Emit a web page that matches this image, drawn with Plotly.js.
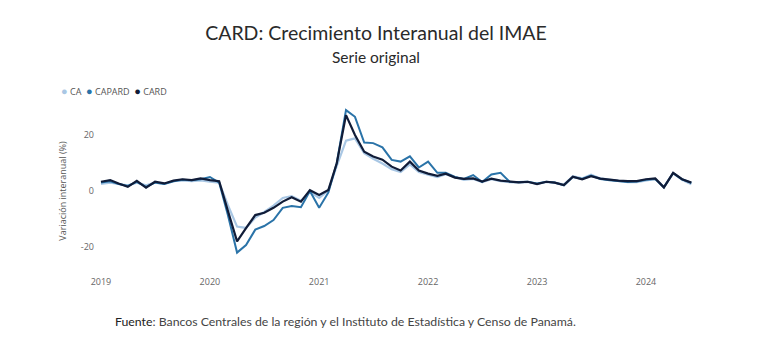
<!DOCTYPE html>
<html>
<head>
<meta charset="utf-8">
<script src="https://cdn.plot.ly/plotly-3.0.1.min.js"></script>
<style>html,body{margin:0;padding:0;background:#fff;}#chart{width:768px;height:361px;}</style>
</head>
<body>
<div id="chart"></div>
<script>
// Monthly dates, Jan 2019 - Jun 2024
const months = [
 '2019-01-01','2019-02-01','2019-03-01','2019-04-01','2019-05-01','2019-06-01','2019-07-01','2019-08-01','2019-09-01','2019-10-01','2019-11-01','2019-12-01',
 '2020-01-01','2020-02-01','2020-03-01','2020-04-01','2020-05-01','2020-06-01','2020-07-01','2020-08-01','2020-09-01','2020-10-01','2020-11-01','2020-12-01',
 '2021-01-01','2021-02-01','2021-03-01','2021-04-01','2021-05-01','2021-06-01','2021-07-01','2021-08-01','2021-09-01','2021-10-01','2021-11-01','2021-12-01',
 '2022-01-01','2022-02-01','2022-03-01','2022-04-01','2022-05-01','2022-06-01','2022-07-01','2022-08-01','2022-09-01','2022-10-01','2022-11-01','2022-12-01',
 '2023-01-01','2023-02-01','2023-03-01','2023-04-01','2023-05-01','2023-06-01','2023-07-01','2023-08-01','2023-09-01','2023-10-01','2023-11-01','2023-12-01',
 '2024-01-01','2024-02-01','2024-03-01','2024-04-01','2024-05-01','2024-06-01'
];
const seriesNames = ['CA', 'CAPARD', 'CARD'];
const ca = [
 2.5, 3.0, 2.5, 2.0, 3.0, 2.0, 3.0, 2.5, 3.5, 3.8, 3.5, 3.8,
 3.3, 3.0, -5.0, -12.7, -13.2, -9.5, -7.5, -5.2, -2.5, -1.8, -3.5, -0.3,
 -2.5, 0.2, 9.0, 18.0, 18.8, 13.5, 11.5, 9.8, 7.8, 6.8, 9.5, 6.8,
 5.8, 5.0, 6.0, 5.0, 4.0, 4.3, 3.2, 4.2, 3.5, 3.2, 3.0, 3.2,
 2.5, 3.2, 3.0, 2.3, 5.3, 4.5, 5.8, 4.5, 4.0, 3.6, 3.2, 3.2,
 3.8, 4.3, 1.5, 6.3, 4.0, 2.4
];
const capard = [
 3.0, 3.5, 2.5, 1.8, 3.3, 1.5, 3.0, 2.5, 3.5, 4.0, 3.8, 4.2,
 5.0, 3.0, -8.5, -22.0, -19.3, -13.8, -12.5, -10.4, -6.0, -5.4, -5.8, 0.0,
 -6.0, -0.5, 10.0, 28.9, 26.5, 17.3, 17.1, 15.6, 11.1, 10.5, 12.4, 8.4,
 10.5, 6.5, 6.5, 5.0, 4.3, 5.7, 3.2, 5.9, 6.5, 3.3, 3.2, 3.3,
 2.7, 3.3, 3.0, 2.0, 5.0, 4.3, 5.5, 4.3, 3.8, 3.4, 3.2, 3.4,
 4.0, 4.3, 1.3, 6.4, 4.2, 2.9
];
const card = [
 3.3, 3.9, 2.7, 1.5, 3.6, 1.2, 3.3, 2.7, 3.7, 4.2, 3.9, 4.5,
 3.9, 3.5, -7.0, -18.0, -13.3, -8.6, -7.8, -6.0, -3.8, -2.2, -3.8, 0.3,
 -1.4, 0.4, 9.9, 27.1, 20.0, 14.0, 12.3, 11.2, 8.7, 7.3, 10.5, 7.3,
 6.2, 5.4, 6.2, 4.8, 4.3, 4.5, 3.4, 4.4, 3.7, 3.3, 3.1, 3.3,
 2.5, 3.3, 3.0, 2.1, 5.1, 4.2, 5.3, 4.4, 4.0, 3.7, 3.5, 3.5,
 4.2, 4.5, 1.3, 6.5, 4.2, 3.0
];
const yTicks = [-20, 0, 20];
const yTickText = ['-20', '0', '20'];
const xTicks = ['2019-01-01','2020-01-01','2021-01-01','2022-01-01','2023-01-01','2024-01-01'];
const xTickText = ['2019','2020','2021','2022','2023','2024'];

const colors = ['#a9c7e4', '#2a73a8', '#101c38'];
const widths = [2.2, 2, 2.2];
const values = [ca, capard, card];

const traces = values.map((v, i) => ({
  type: 'scatter', mode: 'lines', x: months, y: v, name: seriesNames[i],
  line: {color: colors[i], width: widths[i]}, showlegend: false
}));

const legendText = seriesNames.map((n, i) =>
  `<span style="color:${colors[i]};font-size:11px">●</span> ${n}`).join('  ');

const layout = {
  width: 768, height: 361,
  margin: {l: 95, r: 68, t: 107, b: 86},
  paper_bgcolor: '#fff', plot_bgcolor: '#fff',
  font: {family: 'Open Sans, sans-serif', size: 9, color: '#666'},
  title: {
    text: 'CARD: Crecimiento Interanual del IMAE',
    font: {family: 'Lato, sans-serif', size: 19.5, color: '#2a2a2a'},
    x: 376/768, xanchor: 'center', xref: 'container',
    y: 1 - 33/361, yanchor: 'middle', yref: 'container'
  },
  xaxis: {
    type: 'date', range: ['2018-12-12', '2024-06-30'],
    tickvals: xTicks, ticktext: xTickText,
    showgrid: false, zeroline: false, showline: false, ticks: '',
    tickfont: {size: 9, color: '#666'}
  },
  yaxis: {
    range: [-30, 30], tickvals: yTicks, ticktext: yTickText,
    showgrid: false, zeroline: false, showline: false, ticks: '',
    tickfont: {size: 9, color: '#666'},
    title: {text: 'Variación interanual (%)', font: {size: 9, color: '#555'}, standoff: 12}
  },
  annotations: [
    {text: 'Serie original', xref: 'paper', yref: 'paper', x: (376-95)/605, y: (275-57)/168,
     xanchor: 'center', yanchor: 'middle', showarrow: false,
     font: {family: 'Lato, sans-serif', size: 15.5, color: '#2a2a2a'}},
    {text: legendText, xref: 'paper', yref: 'paper', x: (59-95)/605, y: (275-91)/168,
     xanchor: 'left', yanchor: 'middle', showarrow: false,
     font: {family: 'Open Sans, sans-serif', size: 9, color: '#555'}},
    {text: '<span style="color:#222">Fuente</span>: Bancos Centrales de la región y el Instituto de Estadística y Censo de Panamá.',
     xref: 'paper', yref: 'paper', x: (113-95)/605, y: (275-321)/168,
     xanchor: 'left', yanchor: 'middle', showarrow: false,
     font: {family: 'Lato, sans-serif', size: 12.3, color: '#444'}}
  ]
};

Plotly.newPlot('chart', traces, layout, {displayModeBar: false, staticPlot: true});
</script>
</body>
</html>
